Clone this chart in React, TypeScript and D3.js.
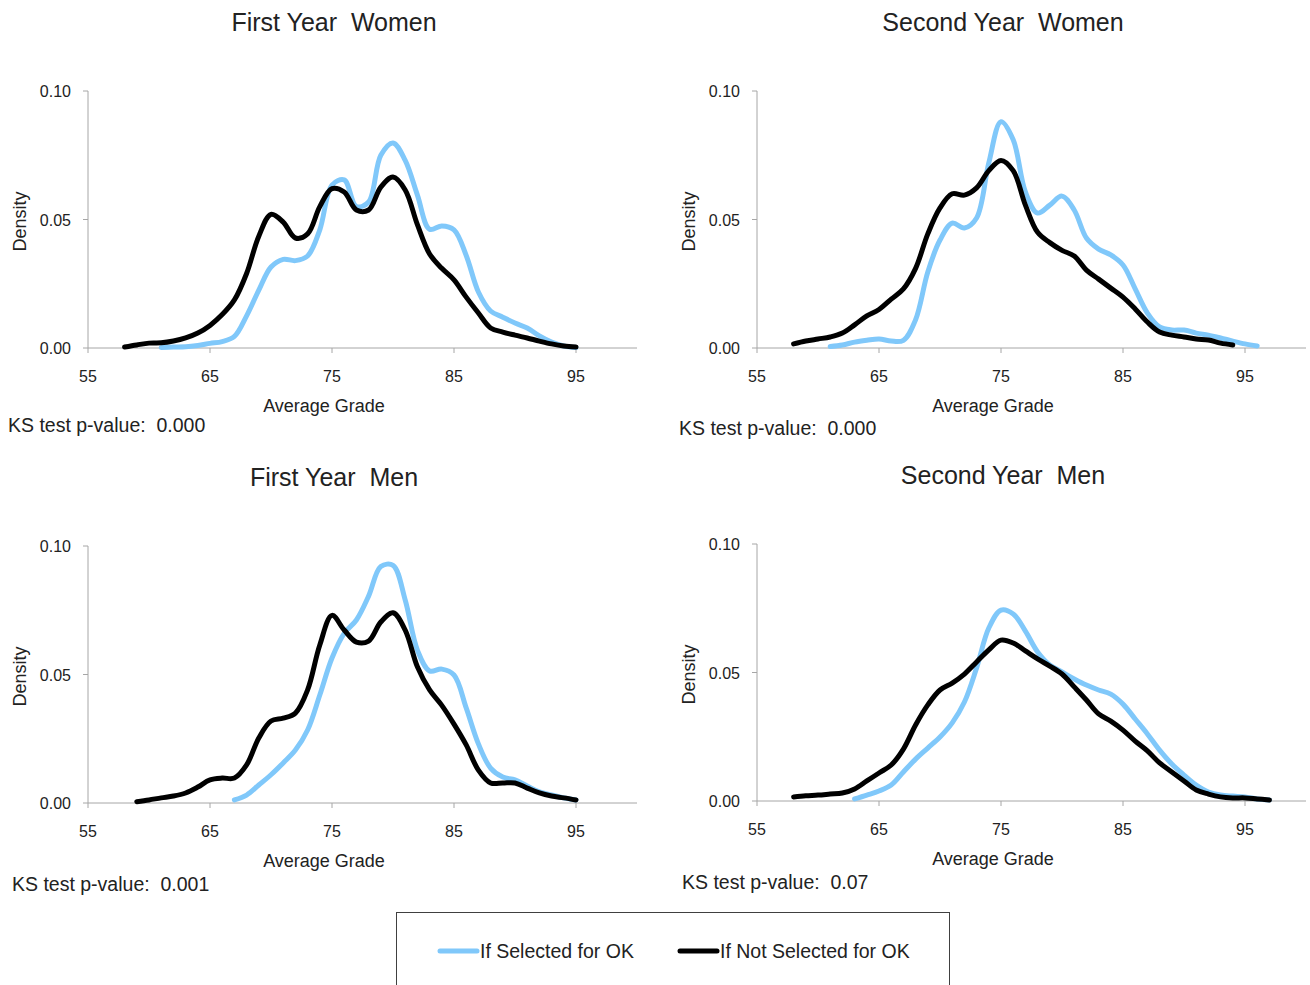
import React from 'react';
import * as d3 from 'd3';

// grade grid shared by every curve
const grades = [58, 59, 60, 61, 62, 63, 64, 65, 66, 67, 68, 69, 70, 71, 72, 73, 74, 75, 76, 77,
  78, 79, 80, 81, 82, 83, 84, 85, 86, 87, 88, 89, 90, 91, 92, 93, 94, 95, 96, 97];
const xTicks = [55, 65, 75, 85, 95];
const yTicks = [0, 0.05, 0.1];

// First Year Women
const fyWomenSelected = [null, null, null, 0.0002, 0.0004, 0.0005, 0.001, 0.0018, 0.0025, 0.0045,
  0.0125, 0.0225, 0.0315, 0.0345, 0.034, 0.0358, 0.046, 0.0634, 0.0654, 0.055,
  0.0568, 0.075, 0.0798, 0.073, 0.0595, 0.0462, 0.0475, 0.046, 0.036, 0.0218,
  0.0144, 0.012, 0.0097, 0.0078, 0.0047, 0.0023, 0.0008, 0.0002, null, null];
const fyWomenNot = [0.0004, 0.0012, 0.0019, 0.002, 0.0027, 0.0039, 0.0058, 0.0088, 0.013, 0.0187,
  0.029, 0.0435, 0.052, 0.049, 0.0428, 0.0444, 0.055, 0.062, 0.0607, 0.0537,
  0.0537, 0.0626, 0.0665, 0.0615, 0.048, 0.0366, 0.031, 0.0265, 0.0198, 0.0136,
  0.0078, 0.0062, 0.005, 0.0039, 0.0027, 0.0016, 0.0008, 0.0004, null, null];

// Second Year Women
const syWomenSelected = [null, null, null, 0.0006, 0.0012, 0.0023, 0.003, 0.0035, 0.0027, 0.003,
  0.011, 0.0296, 0.042, 0.0486, 0.0467, 0.0506, 0.072, 0.088, 0.081, 0.0607,
  0.0525, 0.0556, 0.0591, 0.0537, 0.0428, 0.0385, 0.0362, 0.0323, 0.023, 0.0136,
  0.0082, 0.007, 0.007, 0.0058, 0.005, 0.0039, 0.0027, 0.0016, 0.0008, null];
const syWomenNot = [0.0016, 0.0027, 0.0035, 0.0043, 0.0058, 0.009, 0.0125, 0.015, 0.019, 0.023,
  0.031, 0.0444, 0.0545, 0.06, 0.0595, 0.0623, 0.069, 0.073, 0.069, 0.0556,
  0.045, 0.041, 0.038, 0.0358, 0.0303, 0.0268, 0.0233, 0.0198, 0.0152, 0.0101,
  0.0062, 0.005, 0.0043, 0.0035, 0.0031, 0.0019, 0.0012, null, null, null];

// First Year Men
const fyMenSelected = [null, null, null, null, null, null, null, null, null, 0.0012,
  0.0031, 0.007, 0.011, 0.0156, 0.0206, 0.0284, 0.042, 0.0564, 0.066, 0.0712,
  0.0805, 0.092, 0.0925, 0.079, 0.0595, 0.0514, 0.0521, 0.0498, 0.037, 0.023,
  0.0136, 0.0101, 0.009, 0.0066, 0.0043, 0.0031, 0.002, 0.0012, null, null];
const fyMenNot = [null, 0.0005, 0.0012, 0.002, 0.0027, 0.0039, 0.0062, 0.009, 0.0097, 0.0097,
  0.0148, 0.0253, 0.0319, 0.033, 0.035, 0.044, 0.0615, 0.073, 0.0673, 0.0626,
  0.063, 0.0704, 0.074, 0.0673, 0.053, 0.044, 0.038, 0.0307, 0.0226, 0.0128,
  0.0078, 0.0078, 0.0078, 0.0058, 0.0039, 0.0027, 0.002, 0.0012, null, null];

// Second Year Men
const syMenSelected = [null, null, null, null, null, 0.0008, 0.0023, 0.0039, 0.0062, 0.0113,
  0.0163, 0.0206, 0.0249, 0.0304, 0.0385, 0.0518, 0.0673, 0.0743, 0.0728, 0.0661,
  0.058, 0.0529, 0.0502, 0.0475, 0.0451, 0.0432, 0.0416, 0.0377, 0.0319, 0.0261,
  0.0198, 0.0144, 0.0101, 0.0062, 0.0035, 0.0023, 0.0019, 0.0016, 0.0008, 0.0004];
const syMenNot = [0.0016, 0.002, 0.0023, 0.0027, 0.0031, 0.0047, 0.0078, 0.0109, 0.014, 0.0202,
  0.0296, 0.0374, 0.0432, 0.0459, 0.0494, 0.0541, 0.0588, 0.0626, 0.0615, 0.0584,
  0.0553, 0.0525, 0.0494, 0.0444, 0.0393, 0.0339, 0.0311, 0.0276, 0.0233, 0.0195,
  0.0148, 0.0113, 0.0078, 0.0043, 0.0027, 0.0016, 0.0012, 0.0012, 0.0008, 0.0004];

const BLUE = '#80c8fa';
const FONT = '"Liberation Sans", Arial, sans-serif';
const TEXT = '#222';
const AXIS = '#a6a6a6';

const W = 549;
const H = 257;
const x = d3.scaleLinear().domain([55, 100]).range([0, W]);
const y = d3.scaleLinear().domain([0, 0.1]).range([H, 0]);

const line = d3.line<[number, number | null]>()
  .defined(d => d[1] != null)
  .x(d => x(d[0]))
  .y(d => y(d[1] as number))
  .curve(d3.curveCatmullRom.alpha(0.5));

const zip = (vals: (number | null)[]) => grades.map((g, i) => [g, vals[i]] as [number, number | null]);

const panels = [
  { title: 'First Year  Women', left: 88, top: 91, ks: 'KS test p-value:  0.000', ksX: -80, ksY: 79, sel: fyWomenSelected, not: fyWomenNot },
  { title: 'Second Year  Women', left: 757, top: 91, ks: 'KS test p-value:  0.000', ksX: -78, ksY: 82, sel: syWomenSelected, not: syWomenNot },
  { title: 'First Year  Men', left: 88, top: 546, ks: 'KS test p-value:  0.001', ksX: -76, ksY: 83, sel: fyMenSelected, not: fyMenNot },
  { title: 'Second Year  Men', left: 757, top: 544, ks: 'KS test p-value:  0.07', ksX: -75, ksY: 83, sel: syMenSelected, not: syMenNot },
];

const Panel = ({ p }) => (
  <g transform={`translate(${p.left},${p.top})`} fontFamily={FONT}>
    <text x={246} y={-67} textAnchor="middle" dominantBaseline="middle" fontSize={25} fill={TEXT} style={{ whiteSpace: 'pre' }}>{p.title}</text>
    <line x1={0} x2={0} y1={0} y2={H} stroke={AXIS} />
    <line x1={0} x2={W} y1={H} y2={H} stroke={AXIS} />
    {yTicks.map(t => (
      <g key={t}>
        <line x1={-5} x2={0} y1={y(t)} y2={y(t)} stroke={AXIS} />
        <text x={-17} y={y(t) + 2} textAnchor="end" dominantBaseline="middle" fontSize={16} fill={TEXT}>{d3.format('.2f')(t)}</text>
      </g>
    ))}
    {xTicks.map(t => (
      <g key={t}>
        <line x1={x(t)} x2={x(t)} y1={H} y2={H + 5} stroke={AXIS} />
        <text x={x(t)} y={H + 30} textAnchor="middle" dominantBaseline="middle" fontSize={16} fill={TEXT}>{t}</text>
      </g>
    ))}
    <text transform={`translate(-67,${H / 2 + 2}) rotate(-90)`} textAnchor="middle" dominantBaseline="middle" fontSize={18} fill={TEXT}>Density</text>
    <text x={236} y={H + 59} textAnchor="middle" dominantBaseline="middle" fontSize={18} fill={TEXT}>Average Grade</text>
    <text x={p.ksX} y={H + p.ksY} dominantBaseline="middle" fontSize={19.5} fill={TEXT} style={{ whiteSpace: 'pre' }}>{p.ks}</text>
    <path d={line(zip(p.sel)) || ''} fill="none" stroke={BLUE} strokeWidth={5} strokeLinejoin="round" strokeLinecap="round" />
    <path d={line(zip(p.not)) || ''} fill="none" stroke="#000" strokeWidth={5} strokeLinejoin="round" strokeLinecap="round" />
  </g>
);

export default function App() {
  return (
    <svg width={1310} height={985} style={{ position: 'absolute', left: 0, top: 0, background: '#fff' }}>
      {panels.map(p => <Panel key={p.title} p={p} />)}
      <g fontFamily={FONT}>
        <rect x={396.5} y={912.5} width={553} height={90} fill="none" stroke="#404040" />
        <line x1={440} x2={477} y1={951} y2={951} stroke={BLUE} strokeWidth={5} strokeLinecap="round" />
        <text x={480} y={953} dominantBaseline="middle" fontSize={19.5} fill={TEXT}>If Selected for OK</text>
        <line x1={680} x2={717} y1={951} y2={951} stroke="#000" strokeWidth={5} strokeLinecap="round" />
        <text x={720} y={953} dominantBaseline="middle" fontSize={19.5} fill={TEXT}>If Not Selected for OK</text>
      </g>
    </svg>
  );
}
